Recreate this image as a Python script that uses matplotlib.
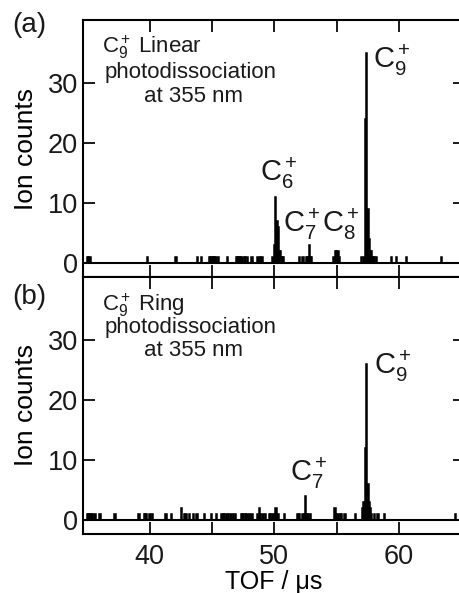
import matplotlib as mpl
mpl.use("Agg")
import matplotlib.pyplot as plt

mpl.rcParams.update({
    "font.family": ["Liberation Sans", "DejaVu Sans"],
    "mathtext.fontset": "custom",
    "mathtext.rm": "Liberation Sans",
    "mathtext.it": "Liberation Sans:italic",
    "mathtext.bf": "Liberation Sans:bold",
    "axes.linewidth": 1.5,
    "text.color": "#1a1a1a",
})

# (a) C9+ linear : TOF bin (us) and counts, zero bins left out
tof_a = [35.0, 35.1, 35.2, 39.8, 42.1, 43.85, 44.15, 44.8, 44.9, 45.0, 45.1,
         45.2, 45.3, 45.5, 46.25, 47.0, 47.1, 47.2, 47.3, 47.4, 47.6, 47.7,
         47.85, 48.2, 48.7, 48.9, 49.0,
         49.9, 50.0, 50.1, 50.2, 50.3, 50.4, 50.5, 50.6, 50.7,
         52.0, 52.3, 52.6, 52.7, 52.8, 52.9, 53.0,
         54.8, 54.9, 55.0, 55.1, 55.2, 57.0,
         57.2, 57.3, 57.4, 57.5, 57.6, 57.7, 57.8, 57.9, 58.0, 58.2,
         59.4, 59.8, 60.6, 63.4]
counts_a = [1, 1, 1, 1, 1, 1, 1, 1, 1, 1, 1,
            1, 1, 1, 1, 1, 1, 1, 1, 1, 1, 1,
            1, 1, 1, 1, 1,
            1, 3, 11, 7, 6, 2, 2, 1, 1,
            1, 1, 1, 1, 3, 1, 1,
            1, 2, 2, 2, 1, 1,
            1, 24, 35, 9, 4, 2, 2, 1, 1, 1,
            1, 1, 1, 1]

# (b) C9+ ring
tof_b = [35.0, 35.1, 35.2, 35.3, 35.4, 35.6, 36.0, 37.2, 39.15, 39.6, 39.7,
         40.0, 40.2, 41.3, 41.75, 42.55, 42.8, 42.9, 43.2, 43.5, 43.8, 44.4,
         44.95, 45.35, 45.8, 45.9, 46.0, 46.2, 46.3, 46.5, 46.7, 46.9, 47.4,
         47.5, 47.7, 47.8, 48.0, 48.2, 48.7, 48.8, 48.9, 49.1, 49.3, 49.6,
         49.7, 49.9, 50.0, 50.15, 50.3, 50.8,
         51.9, 52.0, 52.3, 52.4, 52.5, 52.6, 52.7, 52.9,
         54.85, 54.95, 55.1, 55.3, 55.4, 55.65, 56.5,
         57.1, 57.2, 57.3, 57.4, 57.5, 57.6, 57.7, 57.8, 58.05, 58.3, 58.85,
         64.55]
counts_b = [1, 1, 1, 1, 1, 1, 1, 1, 1, 1, 1,
            1, 1, 1, 1, 2, 1, 1, 1, 1, 1, 1,
            1, 1, 1, 1, 1, 1, 1, 1, 1, 1, 1,
            1, 1, 1, 1, 1, 1, 2, 1, 1, 1, 1,
            1, 1, 1, 2, 1, 1,
            1, 1, 1, 1, 4, 1, 1, 1,
            2, 1, 1, 1, 1, 1, 1,
            2, 3, 12, 26, 6, 3, 2, 1, 1, 1, 1,
            1]

W, H = 460, 593
fig = plt.figure(figsize=(W / 100, H / 100), dpi=100)

x0, x1 = 83 / W, 465 / W
ax_a = fig.add_axes([x0, 316 / H, x1 - x0, 257 / H])
ax_b = fig.add_axes([x0, 59 / H, x1 - x0, 257 / H])

for ax, t, c in [(ax_a, tof_a, counts_a), (ax_b, tof_b, counts_b)]:
    ax.bar(t, c, width=0.12, color="k", edgecolor="k", linewidth=1.1)
    ax.axhline(0, color="k", lw=1.5)
    ax.set_xlim(34.64, 65.3)
    ax.set_ylim(-2.4, 40.5)
    ax.set_xticks([40, 45, 50, 55, 60, 65])
    ax.set_yticks([0, 10, 20, 30])
    ax.tick_params(direction="in", length=8.5, width=1.4, top=True,
                   right=True, labelsize=19.5, pad=3.5, colors="#1a1a1a")
    ax.tick_params(axis="x", pad=7)
    ax.set_ylabel("Ion counts", fontsize=19)
    ax.yaxis.set_label_coords(-0.118, 0.5)

ax_a.set_xticklabels([])
ax_b.set_xticklabels(["40", "", "50", "", "60", ""])
ax_b.set_xlabel("TOF / μs", fontsize=18, labelpad=0)

C = r"$\mathregular{C_%s^+}$"
ann = 16
pk = 21
ax_a.text(36.2, 36.0, r"$\mathregular{C_9^+\;}$Linear", fontsize=ann, va="center")
ax_a.text(36.35, 31.7, "photodissociation", fontsize=ann, va="center")
ax_a.text(43.5, 27.7, "at 355 nm", fontsize=ann, va="center", ha="center")
ax_a.text(50.35, 15.0, C % "6", fontsize=pk, ha="center", va="center")
ax_a.text(52.2, 6.5, C % "7", fontsize=pk, ha="center", va="center")
ax_a.text(55.3, 6.5, C % "8", fontsize=pk, ha="center", va="center")
ax_a.text(59.4, 33.8, C % "9", fontsize=pk, ha="center", va="center")

ax_b.text(36.2, 35.8, r"$\mathregular{C_9^+\;}$Ring", fontsize=ann, va="center")
ax_b.text(36.35, 32.1, "photodissociation", fontsize=ann, va="center")
ax_b.text(43.5, 28.2, "at 355 nm", fontsize=ann, va="center", ha="center")
ax_b.text(52.8, 7.8, C % "7", fontsize=pk, ha="center", va="center")
ax_b.text(59.5, 25.6, C % "9", fontsize=pk, ha="center", va="center")

fig.text(12 / W, 1 - 25 / H, "(a)", fontsize=20, va="center")
fig.text(12 / W, 1 - 297 / H, "(b)", fontsize=20, va="center")

fig.savefig("out.png", dpi=100)
